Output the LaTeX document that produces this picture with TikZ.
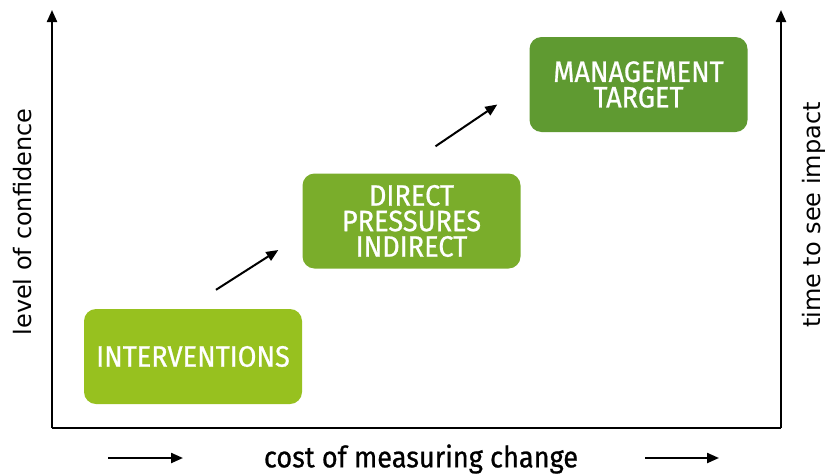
\documentclass[tikz,border=0pt]{standalone}
\usepackage{fontspec}
\usetikzlibrary{arrows.meta}
\setmainfont{DejaVu Sans}
\newfontfamily\dinfont[FakeStretch=0.92,FakeBold=0.7]{Fira Sans}
\definecolor{lightgreen}{HTML}{97C11F}
\definecolor{midgreen}{HTML}{7AAD2B}
\definecolor{darkgreen}{HTML}{5F9A31}
\tikzset{
	stagebox/.style={rounded corners=12pt, minimum width=218pt, minimum height=95pt,
		text=white, align=center, font=\dinfont\fontsize{29.5}{25.5}\selectfont},
	axislabel/.style={rotate=90, font=\fontsize{24}{24}\selectfont},
}

\begin{document}
\begin{tikzpicture}[x=1pt,y=-1pt,>={Triangle[length=12pt,width=10pt]}]
	\useasboundingbox (0,0) rectangle (829,474);
	\draw[->,line width=2.2pt] (52,428) -- (52,10);
	\draw[line width=2.2pt] (52,428) -- (781,428);
	\draw[->,line width=2.2pt] (781,428) -- (781,10);
	\node[axislabel] (confidence) at (23,222) {level of confidence};
	\node[axislabel] (impact) at (814,215) {time to see impact};
	\node[font=\dinfont\fontsize{29.5}{29.5}\selectfont] (cost) at (421,459) {cost of measuring change};
	\draw[->,line width=2.2pt] (108,458) -- (183,458);
	\draw[->,line width=2.2pt] (645,458) -- (719,458);

	\node[stagebox,fill=lightgreen] (interv) at (193,356.5) {INTERVENTIONS};
	\node[stagebox,fill=midgreen] (pressures) at (411.5,221) {DIRECT\\PRESSURES\\INDIRECT};
	\node[stagebox,fill=darkgreen] (target) at (638.5,84.5) {MANAGEMENT\\TARGET};

	\draw[->,line width=2pt] ([xshift=23,yshift=19]interv.north) -- ([xshift=-24,yshift=-29]pressures.west);
	\draw[->,line width=2pt] ([xshift=24,yshift=27]pressures.north) -- ([xshift=-32,yshift=-20]target.west);
\end{tikzpicture}
\end{document}
